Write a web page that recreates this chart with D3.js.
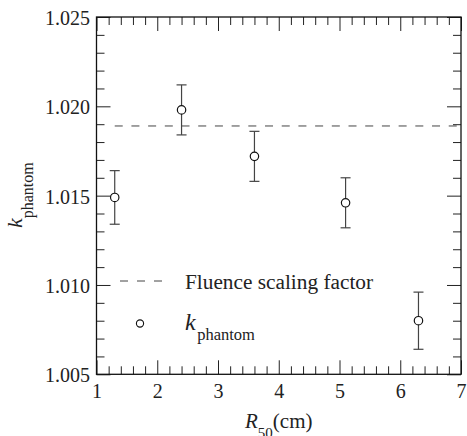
<!DOCTYPE html>
<html>
<head>
<meta charset="utf-8">
<script src="https://cdn.jsdelivr.net/npm/d3@7"></script>
<style>
  body { margin: 0; background: #fff; }
  text { font-family: "Liberation Serif", "DejaVu Serif", serif; fill: #222; }
</style>
</head>
<body>
<script>
var width = 467,
    height = 436;

// data
var rValues = [1.3, 2.4, 3.6, 5.1, 6.3];
var kValues = [1.0149, 1.0198, 1.0172, 1.0146, 1.0080];
var kErrors = [0.0015, 0.0014, 0.0014, 0.0014, 0.0016];
var fluenceFactor = 1.0189;
var fluenceRange = [1.3, 7];
var xTicks = [1, 2, 3, 4, 5, 6, 7];
var yTicks = [1.005, 1.010, 1.015, 1.020, 1.025];

var plotLeft = 96.5, plotRight = 461, plotTop = 17, plotBottom = 374.3;

var svg = d3.select('body')
  .append('svg')
    .attr('width', width)
    .attr('height', height)

var x = d3.scaleLinear().domain([1, 7]).range([plotLeft, plotRight]);
var y = d3.scaleLinear().domain([1.005, 1.025]).range([plotBottom, plotTop]);

var xMinor = d3.range(1, 7.001, 0.2).filter(function(d){ return Math.abs(d - Math.round(d)) > 0.01; });
var yMinor = d3.range(1.005, 1.0251, 0.001).filter(function(d){ return Math.abs(d*200 - Math.round(d*200)) > 0.01; });

function styleAxis(g){
  g.select('.domain').remove();
  g.selectAll('line').attr('stroke', '#222').attr('stroke-width', 1);
}

// major ticks with labels
svg.append('g')
    .attr('transform', 'translate(0,' + plotBottom + ')')
    .call(d3.axisBottom(x).tickValues(xTicks).tickSize(-14).tickPadding(9.5).tickFormat(d3.format('d')))
    .call(styleAxis)
    .selectAll('text')
      .attr('font-size', 20)

svg.append('g')
    .attr('transform', 'translate(' + plotLeft + ',0)')
    .call(d3.axisLeft(y).tickValues(yTicks).tickSize(-14).tickPadding(6.5).tickFormat(d3.format('.3f')))
    .call(styleAxis)
    .selectAll('text')
      .attr('font-size', 20)
      .attr('dy', '0.38em')

svg.append('g')
    .attr('transform', 'translate(0,' + plotTop + ')')
    .call(d3.axisTop(x).tickValues(xTicks).tickSize(-14).tickFormat(''))
    .call(styleAxis)

svg.append('g')
    .attr('transform', 'translate(' + plotRight + ',0)')
    .call(d3.axisRight(y).tickValues(yTicks).tickSize(-14).tickFormat(''))
    .call(styleAxis)

// minor ticks
svg.append('g')
    .attr('transform', 'translate(0,' + plotBottom + ')')
    .call(d3.axisBottom(x).tickValues(xMinor).tickSize(-8).tickFormat(''))
    .call(styleAxis)
svg.append('g')
    .attr('transform', 'translate(0,' + plotTop + ')')
    .call(d3.axisTop(x).tickValues(xMinor).tickSize(-8).tickFormat(''))
    .call(styleAxis)
svg.append('g')
    .attr('transform', 'translate(' + plotLeft + ',0)')
    .call(d3.axisLeft(y).tickValues(yMinor).tickSize(-8).tickFormat(''))
    .call(styleAxis)
svg.append('g')
    .attr('transform', 'translate(' + plotRight + ',0)')
    .call(d3.axisRight(y).tickValues(yMinor).tickSize(-8).tickFormat(''))
    .call(styleAxis)

// frame
svg.append('rect')
    .attr('x', plotLeft)
    .attr('y', plotTop)
    .attr('width', plotRight - plotLeft)
    .attr('height', plotBottom - plotTop)
    .attr('fill', 'none')
    .attr('stroke', '#111')
    .attr('stroke-width', 1.3)

// fluence scaling factor line
svg.append('line')
    .attr('x1', x(fluenceRange[0]))
    .attr('x2', x(fluenceRange[1]))
    .attr('y1', y(fluenceFactor))
    .attr('y2', y(fluenceFactor))
    .attr('stroke', '#444')
    .attr('stroke-width', 1)
    .attr('stroke-dasharray', '8,8.7')

// error bars
var pts = d3.range(rValues.length);
var err = svg.selectAll('g.err')
    .data(pts).enter()
  .append('g')
    .attr('class', 'err')
    .attr('stroke', '#444')
    .attr('stroke-width', 1.2)

err.append('line')
    .attr('x1', function(i){ return x(rValues[i]); })
    .attr('x2', function(i){ return x(rValues[i]); })
    .attr('y1', function(i){ return y(kValues[i] + kErrors[i]); })
    .attr('y2', function(i){ return y(kValues[i] - kErrors[i]); })
err.append('line')
    .attr('x1', function(i){ return x(rValues[i]) - 5; })
    .attr('x2', function(i){ return x(rValues[i]) + 5; })
    .attr('y1', function(i){ return y(kValues[i] + kErrors[i]); })
    .attr('y2', function(i){ return y(kValues[i] + kErrors[i]); })
err.append('line')
    .attr('x1', function(i){ return x(rValues[i]) - 5; })
    .attr('x2', function(i){ return x(rValues[i]) + 5; })
    .attr('y1', function(i){ return y(kValues[i] - kErrors[i]); })
    .attr('y2', function(i){ return y(kValues[i] - kErrors[i]); })

svg.selectAll('circle.pt')
    .data(pts).enter()
  .append('circle')
    .attr('class', 'pt')
    .attr('cx', function(i){ return x(rValues[i]); })
    .attr('cy', function(i){ return y(kValues[i]); })
    .attr('r', 4.2)
    .attr('fill', '#fff')
    .attr('stroke', '#111')
    .attr('stroke-width', 1.2)

// legend
svg.append('line')
    .attr('x1', 120).attr('x2', 164)
    .attr('y1', 281).attr('y2', 281)
    .attr('stroke', '#444')
    .attr('stroke-dasharray', '8,9')
svg.append('text')
    .attr('x', 185).attr('y', 289)
    .attr('font-size', 21.3)
    .text('Fluence scaling factor')

svg.append('circle')
    .attr('cx', 140).attr('cy', 323.5)
    .attr('r', 3.6)
    .attr('fill', '#fff')
    .attr('stroke', '#111')
    .attr('stroke-width', 1.1)
var lk = svg.append('text').attr('x', 185).attr('y', 330);
lk.append('tspan').attr('font-size', 24).attr('font-style', 'italic').text('k');
lk.append('tspan').attr('font-size', 16.5).attr('dy', 10).attr('dx', 1.5).text('phantom');

// axis titles
var xt = svg.append('text').attr('x', 245).attr('y', 428).attr('font-size', 21);
xt.append('tspan').attr('font-style', 'italic').text('R');
xt.append('tspan').attr('font-size', 15).attr('dy', 10).text('50');
xt.append('tspan').attr('dy', -10).text('(cm)');

var yt = svg.append('text')
    .attr('transform', 'translate(22,228) rotate(-90)')
    .attr('font-size', 22);
yt.append('tspan').attr('font-style', 'italic').text('k');
yt.append('tspan').attr('font-size', 16).attr('dy', 11).text('phantom');
</script>
</body>
</html>
